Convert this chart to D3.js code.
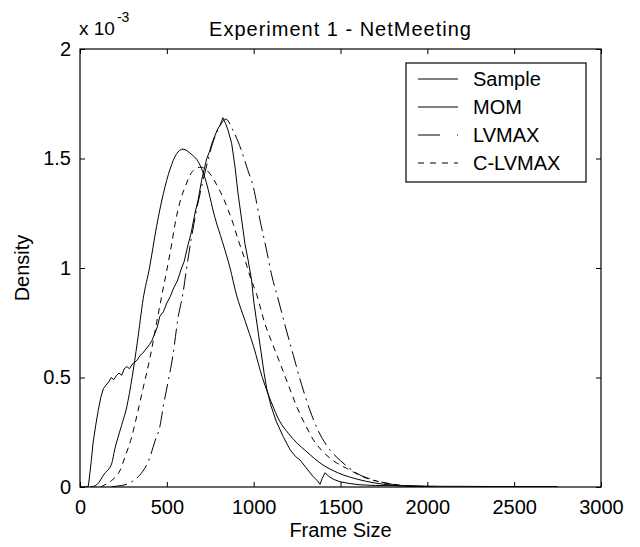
<!DOCTYPE html>
<html>
<head>
<meta charset="utf-8">
<script src="https://cdn.jsdelivr.net/npm/d3@7"></script>
<style>
  body { margin: 0; background: #fff; }
  text { font-family: "Liberation Sans", Arial, Helvetica, sans-serif; fill: #000; }
</style>
</head>
<body>
<svg id="chart" width="640" height="547"></svg>
<script>
// ---------- data (density in units of 1e-3)
var xTicks = [0, 500, 1000, 1500, 2000, 2500, 3000];
var yTicks = [0, 0.5, 1, 1.5, 2];
var seriesNames = ['Sample', 'MOM', 'LVMAX', 'C-LVMAX'];

var sampleCurve = [
  [0, 0], [30, 0], [48, 0.004], [55, 0.05], [65, 0.12], [75, 0.2], [90, 0.28], [105, 0.35],
  [120, 0.41], [135, 0.45], [150, 0.465], [165, 0.48], [180, 0.5], [195, 0.49], [210, 0.51],
  [225, 0.52], [240, 0.51], [255, 0.54], [270, 0.55], [285, 0.54], [300, 0.56], [315, 0.57],
  [330, 0.58], [345, 0.6], [360, 0.61], [380, 0.63], [400, 0.65], [415, 0.67], [430, 0.7],
  [445, 0.73], [460, 0.78], [480, 0.8], [500, 0.84], [520, 0.87], [540, 0.91], [560, 0.94],
  [585, 1.0], [600, 1.03], [620, 1.1], [640, 1.16], [662, 1.25], [680, 1.31], [700, 1.4],
  [715, 1.45], [730, 1.5], [745, 1.53], [760, 1.57], [775, 1.6], [790, 1.63], [805, 1.65],
  [815, 1.67], [823, 1.686], [838, 1.66], [852, 1.63], [873, 1.57], [893, 1.46], [910, 1.34],
  [931, 1.22], [950, 1.11], [968, 1.036], [988, 0.945], [1000, 0.85], [1020, 0.74], [1040, 0.63],
  [1060, 0.52], [1075, 0.45], [1100, 0.37], [1130, 0.3], [1170, 0.23], [1210, 0.17], [1240, 0.14],
  [1267, 0.123], [1300, 0.09], [1340, 0.05], [1365, 0.03], [1382, 0.012], [1395, 0.04],
  [1411, 0.065], [1430, 0.05], [1460, 0.035], [1497, 0.024], [1550, 0.016], [1612, 0.01],
  [1700, 0.007], [1800, 0.006], [1900, 0.005], [2000, 0.004], [2100, 0.003], [2200, 0.003],
  [2400, 0.002], [2600, 0.002], [2750, 0.002]
];

var momCurve = [
  [60, 0], [96, 0.01], [140, 0.06], [182, 0.106], [201, 0.175], [235, 0.27], [269, 0.365],
  [300, 0.5], [330, 0.66], [364, 0.86], [400, 1.0], [441, 1.19], [480, 1.34], [518, 1.45],
  [555, 1.52], [593, 1.543], [640, 1.52], [681, 1.485], [720, 1.41], [777, 1.23], [820, 1.12],
  [864, 1.0], [900, 0.88], [950, 0.76], [1000, 0.64], [1050, 0.5], [1100, 0.39], [1150, 0.3],
  [1200, 0.245], [1250, 0.2], [1300, 0.165], [1350, 0.13], [1400, 0.1], [1457, 0.075],
  [1516, 0.055], [1600, 0.035], [1700, 0.018], [1800, 0.008], [1900, 0.003], [2000, 0.001]
];

var lvmaxCurve = [
  [180, 0], [220, 0.005], [259, 0.01], [300, 0.025], [326, 0.04], [360, 0.07], [392, 0.114],
  [432, 0.21], [461, 0.28], [480, 0.37], [507, 0.48], [535, 0.6], [564, 0.77], [593, 0.885],
  [614, 1.0], [640, 1.13], [670, 1.26], [700, 1.37], [730, 1.47], [760, 1.56], [800, 1.64],
  [840, 1.68], [880, 1.63], [928, 1.54], [965, 1.45], [998, 1.37], [1036, 1.22], [1072, 1.09],
  [1106, 0.96], [1137, 0.87], [1180, 0.74], [1229, 0.6], [1275, 0.47], [1324, 0.35],
  [1370, 0.26], [1420, 0.19], [1500, 0.12], [1600, 0.06], [1700, 0.03], [1800, 0.012],
  [1900, 0.005], [2000, 0.002]
];

var clvmaxCurve = [
  [120, 0], [154, 0.015], [190, 0.035], [230, 0.075], [259, 0.137], [298, 0.23], [326, 0.32],
  [363, 0.45], [403, 0.59], [441, 0.75], [470, 0.87], [495, 0.97], [528, 1.11], [547, 1.2],
  [575, 1.3], [605, 1.37], [652, 1.445], [695, 1.46], [749, 1.43], [787, 1.38], [825, 1.32],
  [853, 1.265], [883, 1.2], [910, 1.13], [945, 1.05], [980, 0.96], [1017, 0.88], [1065, 0.745],
  [1110, 0.65], [1152, 0.565], [1200, 0.465], [1248, 0.367], [1300, 0.28], [1344, 0.215],
  [1400, 0.16], [1450, 0.125], [1536, 0.085], [1650, 0.04], [1750, 0.02], [1850, 0.008],
  [1950, 0.003], [2050, 0.001]
];

// ---------- layout
var svg = d3.select('#chart');
var margin = { left: 80, top: 49, right: 39, bottom: 60 };
var width = 640 - margin.left - margin.right;
var height = 547 - margin.top - margin.bottom;

var x = d3.scaleLinear().domain([0, 3000]).range([0, width]);
var y = d3.scaleLinear().domain([0, 2]).range([height, 0]);

var g = svg.append('g')
  .attr('transform', 'translate(' + margin.left + ',' + margin.top + ')');

svg.append('defs').append('clipPath').attr('id', 'plotclip')
  .append('rect').attr('width', width).attr('height', height);

// ---------- curves
var series = [
  { name: seriesNames[0], data: sampleCurve, dash: null, curve: d3.curveLinear },
  { name: seriesNames[1], data: momCurve, dash: null, curve: d3.curveMonotoneX },
  { name: seriesNames[2], data: lvmaxCurve, dash: '16,5,2,5', curve: d3.curveMonotoneX },
  { name: seriesNames[3], data: clvmaxCurve, dash: '6,5', curve: d3.curveMonotoneX }
];
var legendDash = [null, null, '22,17,1,17', '6,6'];

var plot = g.append('g').attr('clip-path', 'url(#plotclip)');
series.forEach(function(s) {
  var line = d3.line()
    .x(function(d) { return x(d[0]); })
    .y(function(d) { return y(d[1]); })
    .curve(s.curve);
  plot.append('path')
    .datum(s.data)
    .attr('fill', 'none')
    .attr('stroke', '#000')
    .attr('stroke-width', 1)
    .attr('stroke-dasharray', s.dash)
    .attr('d', line);
});

// ---------- axes
var fontSize = 20;
function styleAxis(sel) {
  sel.select('.domain').remove();
  sel.selectAll('line').attr('stroke', '#000');
  sel.selectAll('text')
    .attr('font-size', fontSize)
    .attr('font-family', '"Liberation Sans", Arial, sans-serif')
    .attr('fill', '#000');
}

g.append('g')
  .attr('transform', 'translate(0,' + height + ')')
  .call(d3.axisBottom(x).tickValues(xTicks).tickFormat(d3.format('d'))
    .tickSizeInner(-5).tickSizeOuter(0).tickPadding(13))
  .call(styleAxis);

g.append('g')
  .call(d3.axisTop(x).tickValues(xTicks).tickFormat('')
    .tickSizeInner(-5).tickSizeOuter(0))
  .call(styleAxis);

g.append('g')
  .call(d3.axisLeft(y).tickValues(yTicks).tickFormat(function(d) { return String(d); })
    .tickSizeInner(-5).tickSizeOuter(0).tickPadding(9))
  .call(styleAxis);

g.append('g')
  .attr('transform', 'translate(' + width + ',0)')
  .call(d3.axisRight(y).tickValues(yTicks).tickFormat('')
    .tickSizeInner(-5).tickSizeOuter(0))
  .call(styleAxis);

g.append('rect')
  .attr('width', width)
  .attr('height', height)
  .attr('fill', 'none')
  .attr('stroke', '#000')
  .attr('stroke-width', 1.2);

// ---------- labels
svg.append('text')
  .attr('x', margin.left + width / 2)
  .attr('y', 36)
  .attr('text-anchor', 'middle')
  .attr('font-size', fontSize)
  .attr('letter-spacing', 1)
  .text('Experiment 1 - NetMeeting');

svg.append('text')
  .attr('x', margin.left + width / 2)
  .attr('y', 537)
  .attr('text-anchor', 'middle')
  .attr('font-size', fontSize)
  .text('Frame Size');

svg.append('text')
  .attr('transform', 'translate(29,' + (margin.top + height / 2) + ') rotate(-90)')
  .attr('text-anchor', 'middle')
  .attr('font-size', fontSize)
  .text('Density');

var expo = svg.append('text')
  .attr('x', 79)
  .attr('y', 35)
  .attr('font-size', 19);
expo.append('tspan').text('x 10');
expo.append('tspan').attr('dy', -13).attr('dx', 2).attr('font-size', 14).text('-3');

// ---------- legend
var legend = svg.append('g').attr('transform', 'translate(406,63)');
legend.append('rect')
  .attr('width', 180)
  .attr('height', 119)
  .attr('fill', '#fff')
  .attr('stroke', '#000')
  .attr('stroke-width', 1.2);

var rowY = d3.scalePoint().domain(seriesNames).range([16, 100]);
seriesNames.forEach(function(name, i) {
  legend.append('line')
    .attr('x1', 12).attr('x2', 52)
    .attr('y1', rowY(name)).attr('y2', rowY(name))
    .attr('stroke', '#000')
    .attr('stroke-width', 1)
    .attr('stroke-dasharray', legendDash[i]);
  legend.append('text')
    .attr('x', 67)
    .attr('y', rowY(name))
    .attr('dy', '0.35em')
    .attr('font-size', fontSize)
    .text(name);
});
</script>
</body>
</html>
